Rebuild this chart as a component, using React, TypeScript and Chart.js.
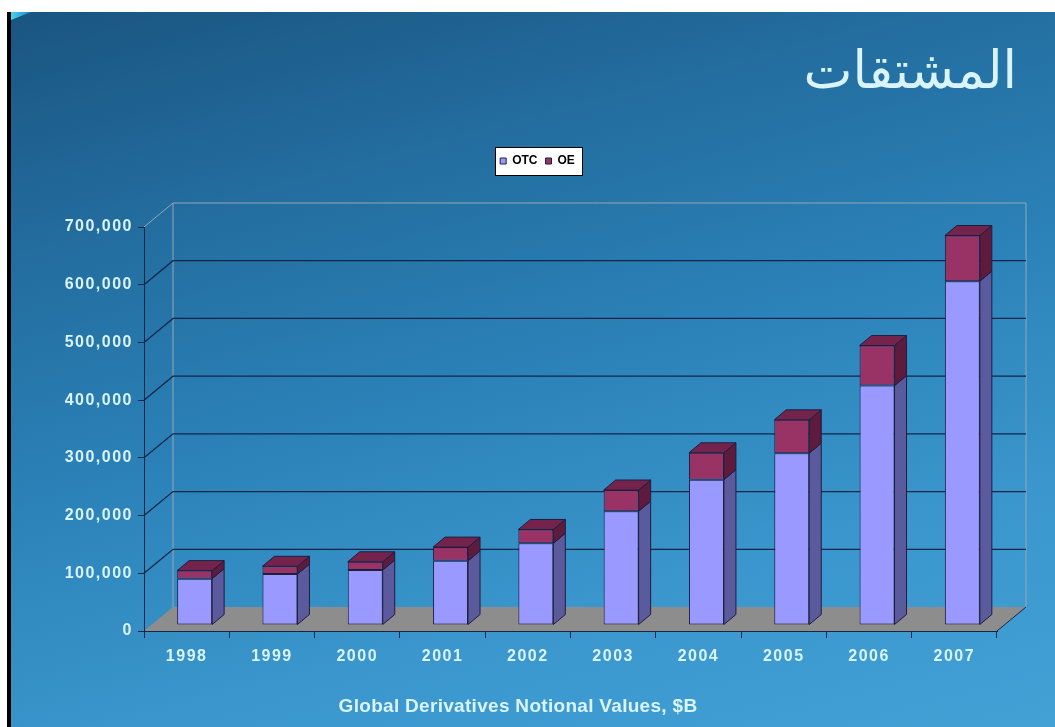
import React, { useEffect, useRef } from 'react';
import { Chart, registerables } from 'chart.js';

Chart.register(...registerables);

// ---------- data ----------
const TITLE = 'المشتقات';
const AXIS_TITLE = 'Global Derivatives Notional Values, $B';
const YEARS = ['1998', '1999', '2000', '2001', '2002', '2003', '2004', '2005', '2006', '2007'];
const OTC = [80309, 88202, 95199, 111178, 141665, 197167, 251823, 297670, 414845, 595738];
const OE = [13932, 13522, 14302, 23799, 23874, 36737, 46592, 57816, 69392, 79078];
const Y_MAX = 700000;
const Y_STEP = 100000;

// ---------- style ----------
const TEXT_COLOR = '#d9f4fb';
const GRID_DARK = '#14254a';
const EDGE_GRAY = '#98a6b2';
const FLOOR = '#8d8d8d';
const FRONT = ['#9999ff', '#993366'];
const SIDE = ['#5a5a9c', '#5e1b3e'];
const TOP = ['#7a7ad0', '#74244c'];
const BAR_BORDER = '#1e1e40';

const WALL_DX = 29;
const WALL_DY = -24;
const BAR_DX = 8;
const BAR_DY = -6;
const SIDE_DX = 12;
const SIDE_DY = -10;

const depthPlugin = {
  id: 'depth3d',
  beforeDraw(chart: any) {
    const ctx = chart.ctx;
    ctx.letterSpacing = '0px';
    // legend frame
    const lg = chart.legend;
    if (lg && lg.lineWidths && lg.lineWidths.length) {
      const p = lg.options.labels.padding;
      const start = (lg.left + p + lg.right - lg.lineWidths[0]) / 2;
      const end = start + lg.lineWidths[0] - p;
      const cy = lg.top + p + 6;
      ctx.save();
      ctx.fillStyle = '#ffffff';
      ctx.strokeStyle = '#000000';
      ctx.lineWidth = 1;
      const x0 = Math.round(start - 5) + 0.5;
      const x1 = Math.round(end + 7) + 0.5;
      const y0 = Math.round(cy - 14) + 0.5;
      const y1 = Math.round(cy + 14) + 0.5;
      ctx.fillRect(x0, y0, x1 - x0, y1 - y0);
      ctx.strokeRect(x0, y0, x1 - x0, y1 - y0);
      ctx.restore();
    }
    // walls and floor
    const { left, right, bottom } = chart.chartArea;
    const ys = chart.scales.y;
    ctx.save();
    ctx.beginPath();
    ctx.moveTo(left, bottom);
    ctx.lineTo(right, bottom);
    ctx.lineTo(right + WALL_DX, bottom + WALL_DY);
    ctx.lineTo(left + WALL_DX, bottom + WALL_DY);
    ctx.closePath();
    ctx.fillStyle = FLOOR;
    ctx.fill();
    // right floor edge
    ctx.beginPath();
    ctx.moveTo(right, bottom);
    ctx.lineTo(right + WALL_DX, bottom + WALL_DY);
    ctx.strokeStyle = GRID_DARK;
    ctx.lineWidth = 1;
    ctx.stroke();
    const topY = ys.getPixelForValue(ys.max);
    // back wall vertical edges
    ctx.beginPath();
    ctx.moveTo(left + WALL_DX, bottom + WALL_DY);
    ctx.lineTo(left + WALL_DX, topY + WALL_DY);
    ctx.moveTo(right + WALL_DX, bottom + WALL_DY);
    ctx.lineTo(right + WALL_DX, topY + WALL_DY);
    ctx.strokeStyle = EDGE_GRAY;
    ctx.stroke();
    // gridlines on side and back walls
    ys.ticks.forEach((t: any) => {
      if (t.value <= 0) return;
      const y = ys.getPixelForValue(t.value);
      ctx.beginPath();
      ctx.moveTo(left, y);
      ctx.lineTo(left + WALL_DX, y + WALL_DY);
      ctx.lineTo(right + WALL_DX, y + WALL_DY);
      ctx.strokeStyle = t.value >= ys.max ? EDGE_GRAY : GRID_DARK;
      ctx.lineWidth = t.value >= ys.max ? 1 : 1.3;
      ctx.stroke();
    });
    ctx.restore();
  },
  beforeDatasetsDraw(chart: any) {
    chart.ctx.save();
    chart.ctx.translate(BAR_DX, BAR_DY);
  },
  afterDatasetsDraw(chart: any) {
    const ctx = chart.ctx;
    const n = chart.data.datasets.length;
    for (let d = 0; d < n; d++) {
      const meta = chart.getDatasetMeta(d);
      meta.data.forEach((el: any) => {
        const { x, y, base, width } = el.getProps(['x', 'y', 'base', 'width'], true);
        const l = x - width / 2;
        const r = x + width / 2;
        const t = Math.min(y, base);
        const b = Math.max(y, base);
        ctx.lineWidth = 1;
        ctx.strokeStyle = BAR_BORDER;
        ctx.beginPath();
        ctx.moveTo(r, t);
        ctx.lineTo(r + SIDE_DX, t + SIDE_DY);
        ctx.lineTo(r + SIDE_DX, b + SIDE_DY);
        ctx.lineTo(r, b);
        ctx.closePath();
        ctx.fillStyle = SIDE[d];
        ctx.fill();
        ctx.stroke();
        if (d === n - 1) {
          ctx.beginPath();
          ctx.moveTo(l, t);
          ctx.lineTo(l + SIDE_DX, t + SIDE_DY);
          ctx.lineTo(r + SIDE_DX, t + SIDE_DY);
          ctx.lineTo(r, t);
          ctx.closePath();
          ctx.fillStyle = TOP[d];
          ctx.fill();
          ctx.stroke();
        }
      });
    }
    ctx.restore();
    ctx.letterSpacing = '1.5px';
  },
  afterDraw(chart: any) {
    const ctx = chart.ctx;
    ctx.save();
    ctx.letterSpacing = '0.3px';
    ctx.font = 'bold 19px "Liberation Sans", Arial, sans-serif';
    ctx.fillStyle = TEXT_COLOR;
    ctx.textAlign = 'center';
    ctx.textBaseline = 'middle';
    ctx.fillText(AXIS_TITLE, 518, 707);
    ctx.restore();
    ctx.letterSpacing = '0px';
  },
};

export default function App() {
  const ref = useRef<HTMLCanvasElement>(null);

  useEffect(() => {
    const canvas = ref.current;
    if (!canvas) return;
    const tickFont = { family: 'Liberation Sans', size: 16, weight: 'bold' as const };
    const chart = new Chart(canvas, {
      type: 'bar',
      data: {
        labels: YEARS,
        datasets: [
          {
            label: 'OTC',
            data: OTC,
            backgroundColor: FRONT[0],
            borderColor: BAR_BORDER,
            borderWidth: 1,
            borderSkipped: false,
            xAxisID: 'x',
            yAxisID: 'y',
            clip: false,
          } as any,
          {
            label: 'OE',
            data: OE,
            backgroundColor: FRONT[1],
            borderColor: BAR_BORDER,
            borderWidth: 1,
            borderSkipped: false,
            xAxisID: 'x',
            yAxisID: 'y',
            clip: false,
          } as any,
        ],
      },
      options: {
        animation: false,
        responsive: false,
        layout: { padding: { left: 58, right: 38, top: 0, bottom: 0 } },
        datasets: { bar: { barPercentage: 1, categoryPercentage: 0.41 } },
        scales: {
          x: {
            type: 'category',
            position: 'bottom',
            stacked: true,
            offset: true,
            grid: { offset: true, drawOnChartArea: false, drawTicks: true, tickLength: 7, color: GRID_DARK },
            border: { display: true, color: GRID_DARK, width: 1 },
            ticks: { z: 1, color: TEXT_COLOR, font: tickFont, padding: 9, maxRotation: 0, autoSkip: false },
            afterFit: (s: any) => { s.height = 96; },
          },
          y: {
            type: 'linear',
            position: 'left',
            stacked: true,
            min: 0,
            max: Y_MAX,
            grid: { drawOnChartArea: false, drawTicks: true, tickLength: 6, color: GRID_DARK },
            border: { display: true, color: GRID_DARK, width: 1 },
            ticks: {
              z: 1,
              stepSize: Y_STEP,
              color: TEXT_COLOR,
              font: tickFont,
              padding: 5,
              callback: (v: any) => Number(v).toLocaleString('en-US'),
            },
            afterFit: (s: any) => { s.width = 86; },
          },
          xTop: {
            type: 'linear',
            axis: 'x',
            position: 'top',
            display: true,
            grid: { display: false },
            border: { display: false },
            ticks: { display: false },
            afterFit: (s: any) => { s.height = 50; },
          } as any,
          yRight: {
            type: 'linear',
            axis: 'y',
            position: 'right',
            display: true,
            grid: { display: false },
            border: { display: false },
            ticks: { display: false },
            afterFit: (s: any) => { s.width = 20; },
          } as any,
        },
        plugins: {
          title: {
            display: true,
            text: TITLE,
            align: 'end',
            color: TEXT_COLOR,
            font: { family: 'DejaVu Sans', size: 52, weight: 'normal', lineHeight: 1.2 },
            padding: { top: 42.8, bottom: 41.8 },
          },
          legend: {
            display: true,
            position: 'top',
            align: 'center',
            labels: {
              boxWidth: 6,
              boxHeight: 6,
              padding: 8,
              color: '#000000',
              font: { family: 'Liberation Sans', size: 12, weight: 'bold' },
            },
          },
          tooltip: { enabled: false },
        },
      } as any,
      plugins: [depthPlugin],
    });
    return () => chart.destroy();
  }, []);

  return (
    <div style={{ position: 'fixed', left: 0, top: 0, width: 1055, height: 727, background: '#ffffff', overflow: 'hidden' }}>
      <div style={{ position: 'absolute', left: 7, top: 12, width: 4, height: 715, background: '#000000' }} />
      <div
        style={{
          position: 'absolute',
          left: 11,
          top: 12,
          width: 1044,
          height: 715,
          background: 'linear-gradient(165deg, #1a5581 0%, #236d9f 25%, #2b82b8 50%, #3a96cc 75%, #43a1d6 100%)',
        }}
      />
      <div
        style={{
          position: 'absolute',
          left: 11,
          top: 12,
          width: 20,
          height: 8,
          background: 'linear-gradient(90deg, #4fd0ee, #1a8fbf)',
          clipPath: 'polygon(0 0, 100% 0, 0 100%)',
        }}
      />
      <canvas ref={ref} width={1055} height={727} style={{ position: 'absolute', left: 0, top: 0, width: 1055, height: 727 }} />
    </div>
  );
}
